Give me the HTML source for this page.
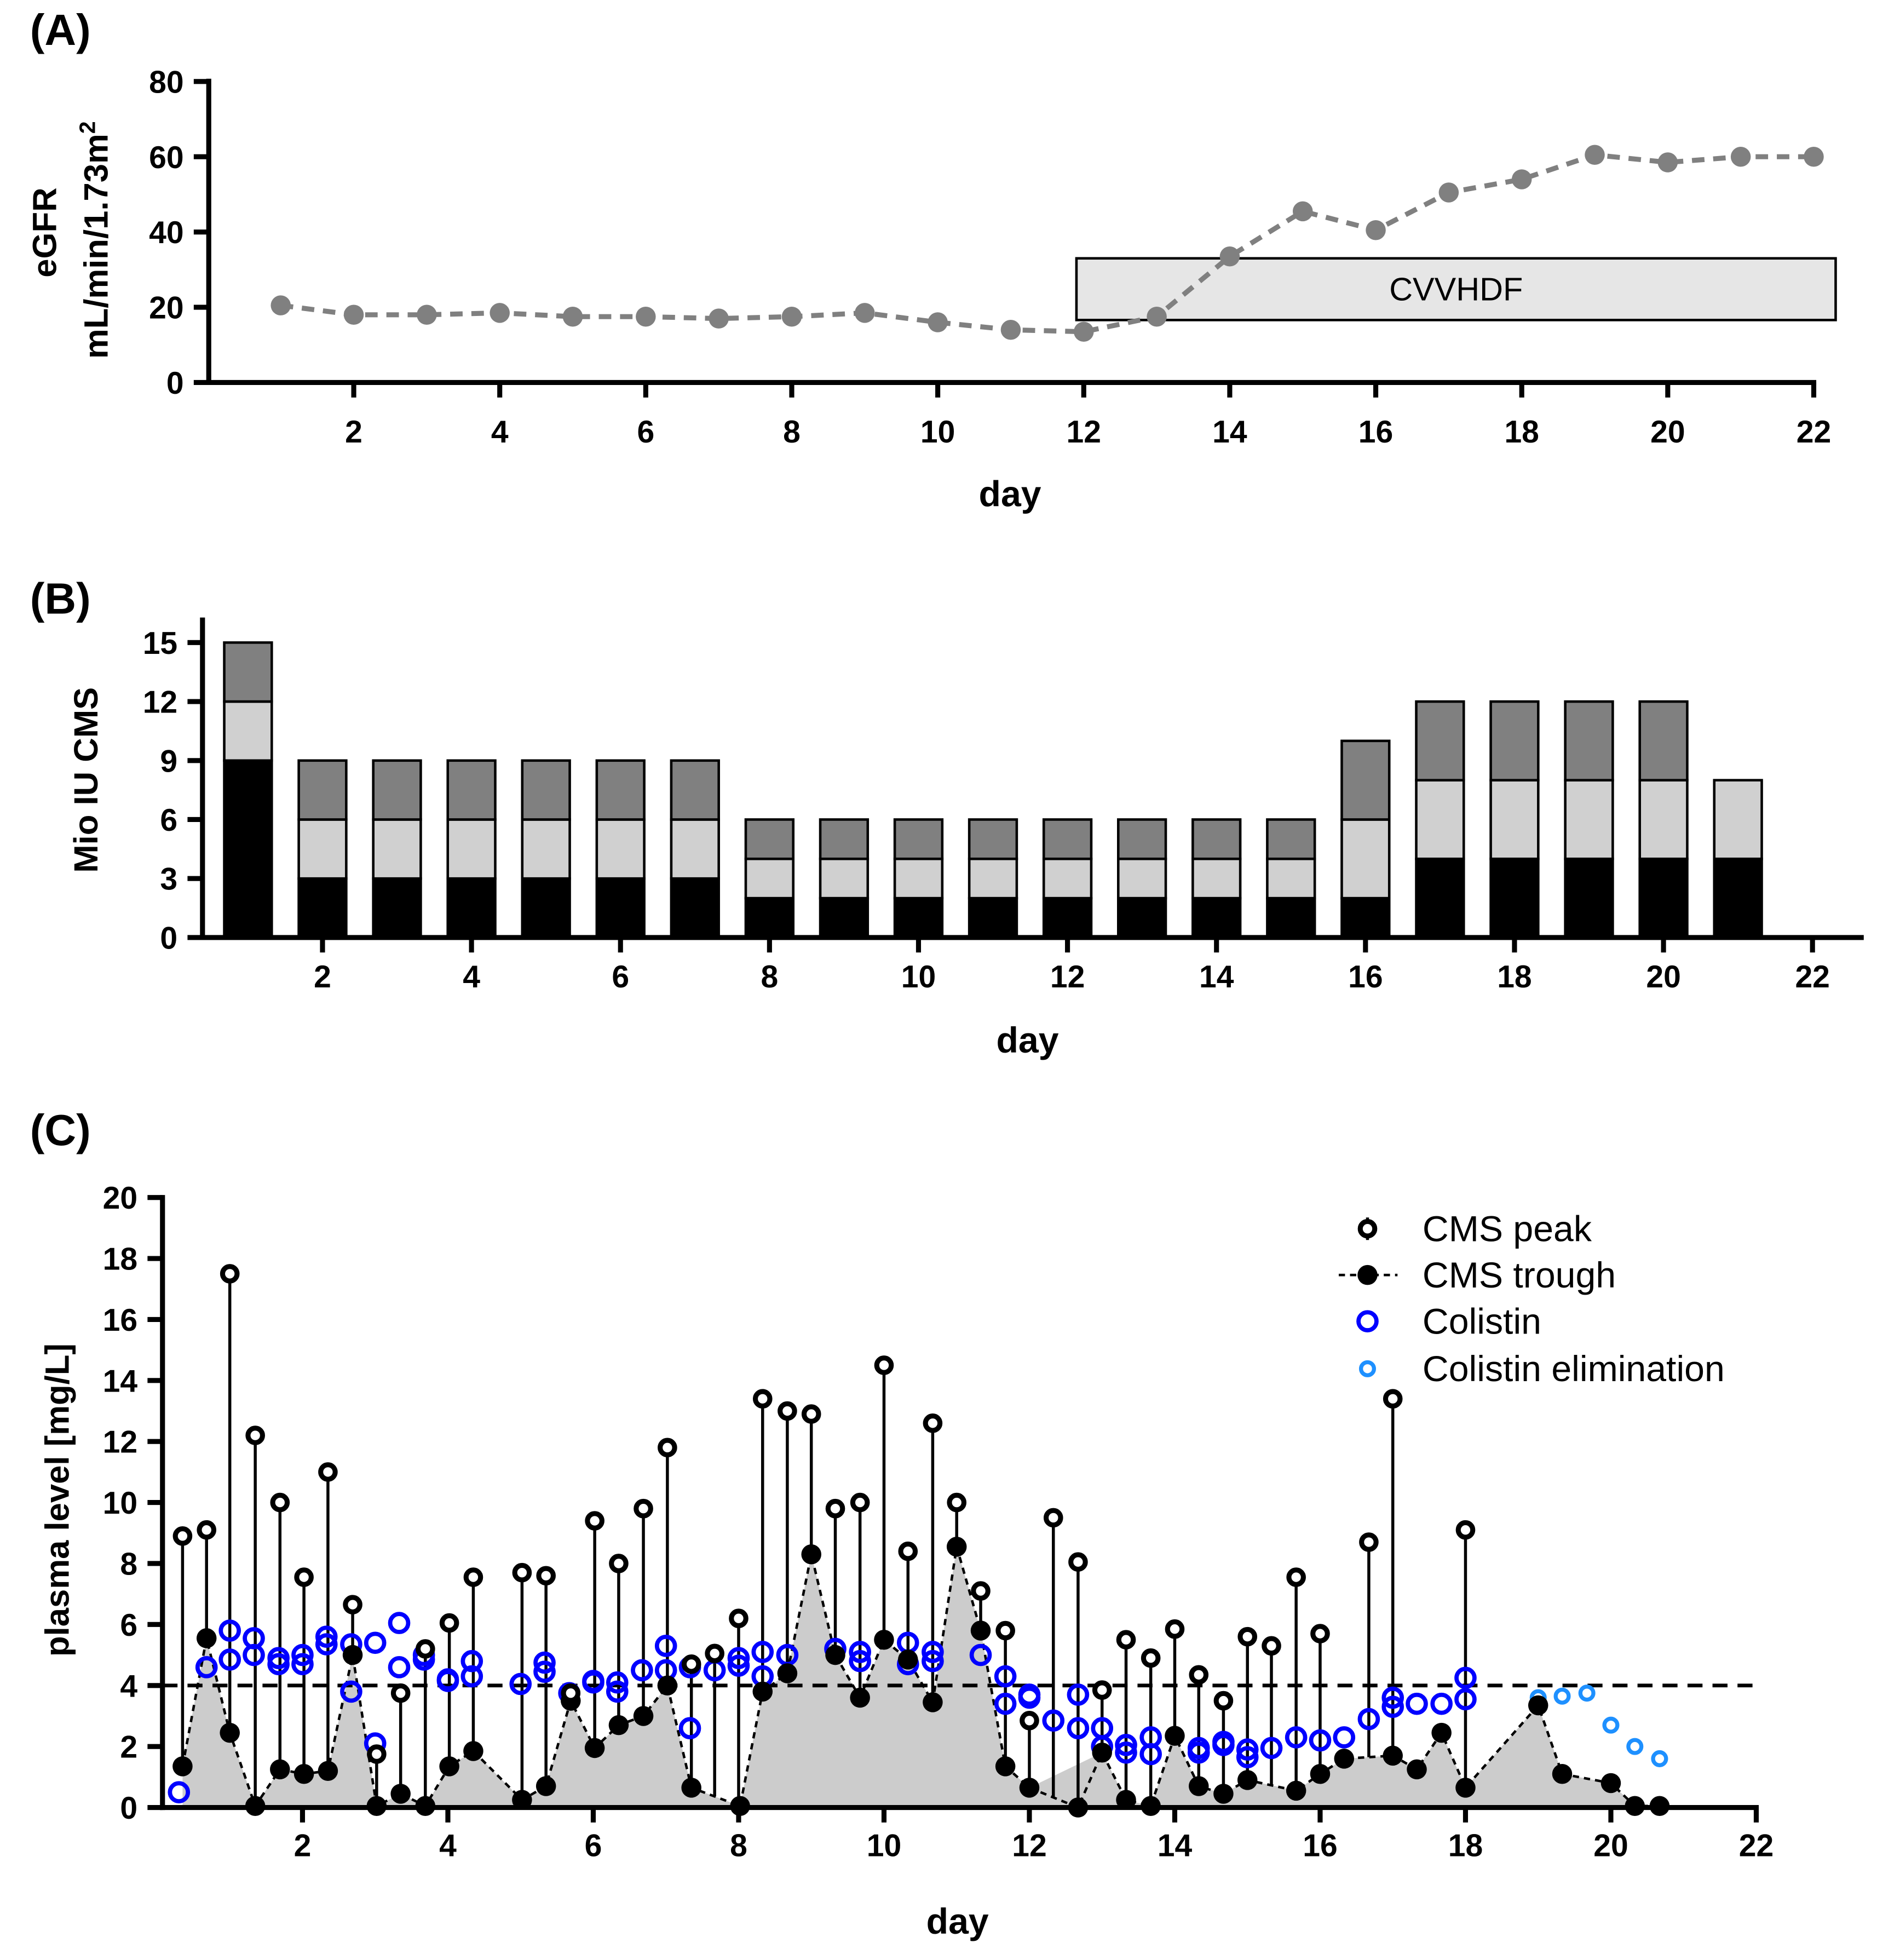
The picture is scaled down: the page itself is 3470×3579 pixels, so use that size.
<!DOCTYPE html>
<html><head><meta charset="utf-8"><style>
html,body{margin:0;padding:0;background:#fff}
svg{display:block}
text{font-family:"Liberation Sans",Arial,sans-serif}
</style></head><body>
<svg id="fig" width="3470" height="3579" viewBox="0 0 1520 1568" preserveAspectRatio="none" xmlns="http://www.w3.org/2000/svg">
<g id="pa"></g>
<g id="pb"></g>
<g id="pc"></g>
</svg>
<script>
// ---------- Panel A data ----------
const egfrDays = [1,2,3,4,5,6,7,8,9,10,11,12,13,14,15,16,17,18,19,20,21,22];
const egfrValues = [20.5,18,18,18.5,17.5,17.5,17,17.5,18.5,16,14,13.5,17.5,33.5,45.5,40.5,50.5,54,60.5,58.5,60,60];
const egfrTicks = [0,20,40,60,80];
const dayTicks = [2,4,6,8,10,12,14,16,18,20,22];
const cvvhdfRange = [11.9, 22.3];
const cvvhdfLevels = [16.6, 33];
// ---------- Panel B data ----------
const doseDays = [1,2,3,4,5,6,7,8,9,10,11,12,13,14,15,16,17,18,19,20,21];
const doseA = [9,3,3,3,3,3,3,2,2,2,2,2,2,2,2,2,4,4,4,4,4];
const doseB = [3,3,3,3,3,3,3,2,2,2,2,2,2,2,2,4,4,4,4,4,4];
const doseC = [3,3,3,3,3,3,3,2,2,2,2,2,2,2,2,4,4,4,4,4,0];
const doseTicks = [0,3,6,9,12,15];
// ---------- Panel C data ----------
const troughDays = [0.35,0.68,1.0,1.35,1.69,2.02,2.35,2.69,3.02,3.35,3.69,4.02,4.35,5.02,5.35,5.69,6.02,6.35,6.69,7.02,7.35,8.02,8.33,8.67,9.0,9.33,9.67,10.0,10.33,10.67,11.0,11.33,11.67,12.0,12.67,13.0,13.33,13.67,14.0,14.33,14.67,15.0,15.67,16.0,16.33,17.0,17.33,17.67,18.0,19.0,19.33,20.0,20.33,20.67];
const troughValues = [1.35,5.55,2.45,0.05,1.25,1.1,1.2,5.0,0.05,0.45,0.05,1.35,1.85,0.25,0.7,3.5,1.95,2.7,3.0,4.0,0.65,0.05,3.8,4.4,8.3,5.0,3.6,5.5,4.85,3.45,8.55,5.8,1.35,0.65,0.0,1.8,0.25,0.05,2.35,0.7,0.45,0.9,0.55,1.1,1.6,1.7,1.25,2.45,0.65,3.35,1.1,0.8,0.05,0.05];
const peakDays = [0.35,0.68,1.0,1.35,1.69,2.02,2.35,2.69,3.02,3.35,3.69,4.02,4.35,5.02,5.35,5.69,6.02,6.35,6.69,7.02,7.35,7.67,8.0,8.33,8.67,9.0,9.33,9.67,10.0,10.33,10.67,11.0,11.33,11.67,12.0,12.33,12.67,13.0,13.33,13.67,14.0,14.33,14.67,15.0,15.33,15.67,16.0,16.67,17.0,18.0];
const peakValues = [8.9,9.1,17.5,12.2,10.0,7.55,11.0,6.65,1.75,3.75,5.2,6.05,7.55,7.7,7.6,3.75,9.4,8.0,9.8,11.8,4.7,5.05,6.2,13.4,13.0,12.9,9.8,10.0,14.5,8.4,12.6,10.0,7.1,5.8,2.85,9.5,8.05,3.85,5.5,4.9,5.85,4.35,3.5,5.6,5.3,7.55,5.7,8.7,13.4,9.1];
const colDays = [0.3,0.68,1.0,1.0,1.33,1.33,1.67,1.67,2.0,2.0,2.33,2.33,2.67,2.67,3.0,3.0,3.33,3.33,3.67,3.67,4.0,4.0,4.33,4.33,5.0,5.33,5.33,5.67,6.0,6.0,6.33,6.33,6.67,7.0,7.0,7.33,7.33,7.67,8.0,8.0,8.33,8.33,8.67,9.33,9.67,9.67,10.33,10.33,10.67,10.67,11.33,11.67,11.67,12.0,12.0,12.33,12.67,12.67,13.0,13.0,13.33,13.33,13.67,13.67,14.33,14.33,14.67,14.67,15.0,15.0,15.33,15.67,16.0,16.33,16.67,17.0,17.0,17.33,17.67,18.0,18.0];
const colValues = [0.5,4.6,5.8,4.85,5.55,5.0,4.9,4.7,5.0,4.7,5.6,5.35,5.35,3.8,5.4,2.1,6.05,4.6,5.0,4.85,4.15,4.2,4.8,4.3,4.05,4.75,4.45,3.75,4.1,4.15,4.1,3.8,4.5,5.3,4.5,4.6,2.6,4.5,4.9,4.65,5.1,4.3,5.0,5.2,5.1,4.8,5.4,4.7,5.1,4.8,5.0,4.3,3.4,3.7,3.6,2.85,3.7,2.6,2.6,2.0,2.05,1.8,2.3,1.75,1.95,1.8,2.15,2.05,1.9,1.65,1.95,2.3,2.2,2.3,2.9,3.6,3.3,3.4,3.4,4.25,3.55];
const elimDays = [19.0,19.33,19.67,20.0,20.33,20.67];
const elimValues = [3.6,3.65,3.75,2.7,2.0,1.6];
const plasmaTicks = [0,2,4,6,8,10,12,14,16,18,20];
const threshold = 4;

const NS='http://www.w3.org/2000/svg';
function mk(parent, tag, attrs, txt){
  const e=document.createElementNS(NS,tag);
  for(const k in attrs) e.setAttribute(k,attrs[k]);
  if(txt!==undefined) e.textContent=txt;
  parent.appendChild(e); return e;
}
const pa=document.getElementById('pa'), pb=document.getElementById('pb'), pc=document.getElementById('pc');
const svg=document.getElementById('fig');

// ===== Panel A =====
const ax=d=>166.2+d*58.4, ay=v=>306-v*3.01;
let t;
t=mk(svg,'text',{x:24,y:36,'font-size':35,'font-weight':'bold'},'(A)');


let r=mk(pa,'rect',{x:ax(cvvhdfRange[0]),y:ay(cvvhdfLevels[1]),width:ax(cvvhdfRange[1])-ax(cvvhdfRange[0]),height:ay(cvvhdfLevels[0])-ay(cvvhdfLevels[1]),fill:'#e6e6e6',stroke:'#000','stroke-width':2});


t=mk(pa,'text',{x:(ax(cvvhdfRange[0])+ax(cvvhdfRange[1]))/2,y:ay((cvvhdfLevels[0]+cvvhdfLevels[1])/2)+9,'font-size':26,'text-anchor':'middle'},'CVVHDF');


let pl=mk(pa,'polyline',{points:egfrDays.map((d,i)=>ax(d)+','+ay(egfrValues[i])).join(' '),fill:'none',stroke:'#808080','stroke-width':4,'stroke-dasharray':'10,7'});


egfrDays.forEach((d,i)=>{
  const c=mk(pa,'circle',{cx:ax(d),cy:ay(egfrValues[i]),r:8,fill:'#808080'});
  
  
});
mk(pa,'line',{x1:167,y1:63,x2:167,y2:308,stroke:'#000','stroke-width':4});
mk(pa,'line',{x1:165,y1:306,x2:ax(22)+2,y2:306,stroke:'#000','stroke-width':4});
egfrTicks.forEach(v=>{
  mk(pa,'line',{x1:155,y1:ay(v),x2:167,y2:ay(v),stroke:'#000','stroke-width':4});
  t=mk(pa,'text',{x:147,y:ay(v)+9,'font-size':25,'font-weight':'bold','text-anchor':'end'},v);
  
  
});
dayTicks.forEach(d=>{
  mk(pa,'line',{x1:ax(d),y1:306,x2:ax(d),y2:318,stroke:'#000','stroke-width':4});
  t=mk(pa,'text',{x:ax(d),y:354,'font-size':25,'font-weight':'bold','text-anchor':'middle'},d);
  
  
});
t=mk(pa,'text',{x:808,y:405,'font-size':29,'font-weight':'bold','text-anchor':'middle'},'day');


t=mk(pa,'text',{transform:'translate(45,186) rotate(-90)','font-size':27,'font-weight':'bold','text-anchor':'middle'},'eGFR');


t=mk(pa,'text',{transform:'translate(86,192) rotate(-90)','font-size':27,'font-weight':'bold','text-anchor':'middle'});


t.innerHTML='mL/min/1.73m<tspan dy="-10" font-size="18">2</tspan>';

// ===== Panel B =====
const bx=d=>138.8+d*59.6, by=v=>750-v*15.73;
t=mk(svg,'text',{x:24,y:491,'font-size':35,'font-weight':'bold'},'(B)');


doseDays.forEach((d,i)=>{
  const segs=[[doseA[i],'#000'],[doseB[i],'#d0d0d0'],[doseC[i],'#808080']];
  let base=0;
  segs.forEach((s,j)=>{
    if(s[0]<=0) return;
    const rr=mk(pb,'rect',{x:bx(d)-19,y:by(base+s[0]),width:38,height:by(base)-by(base+s[0]),fill:s[1],stroke:'#000','stroke-width':2});
    
    
    base+=s[0];
  });
});
mk(pb,'line',{x1:162,y1:494,x2:162,y2:752,stroke:'#000','stroke-width':4});
mk(pb,'line',{x1:160,y1:750,x2:1491,y2:750,stroke:'#000','stroke-width':4});
doseTicks.forEach(v=>{
  mk(pb,'line',{x1:150,y1:by(v),x2:162,y2:by(v),stroke:'#000','stroke-width':4});
  t=mk(pb,'text',{x:142,y:by(v)+9,'font-size':25,'font-weight':'bold','text-anchor':'end'},v);
  
  
});
dayTicks.forEach(d=>{
  mk(pb,'line',{x1:bx(d),y1:750,x2:bx(d),y2:762,stroke:'#000','stroke-width':4});
  t=mk(pb,'text',{x:bx(d),y:790,'font-size':25,'font-weight':'bold','text-anchor':'middle'},d);
  
  
});
t=mk(pb,'text',{x:822,y:842,'font-size':29,'font-weight':'bold','text-anchor':'middle'},'day');


t=mk(pb,'text',{transform:'translate(78,624) rotate(-90)','font-size':27,'font-weight':'bold','text-anchor':'middle'},'Mio IU CMS');



// ===== Panel C =====
const cx=d=>125.7+d*58.15, cy=v=>1446-v*24.4;
t=mk(svg,'text',{x:24,y:916,'font-size':35,'font-weight':'bold'},'(C)');


// area (skips the dip at 12.67, as in the reference)
const areaIdx = troughDays.map((d,i)=>i).filter(i=>troughDays[i]!==12.67);
let apts=cx(troughDays[0])+','+cy(0)+' '+areaIdx.map(i=>cx(troughDays[i])+','+cy(troughValues[i])).join(' ')+' '+cx(troughDays[troughDays.length-1])+','+cy(0);
let area=mk(pc,'polygon',{points:apts,fill:'#cccccc'});


function troughAt(d){
  for(let i=0;i<troughDays.length-1;i++){
    if(d>=troughDays[i]&&d<=troughDays[i+1]){
      const f=(d-troughDays[i])/(troughDays[i+1]-troughDays[i]);
      return troughValues[i]+f*(troughValues[i+1]-troughValues[i]);
    }
  }
  return 0;
}
let th=mk(pc,'line',{x1:130,y1:cy(threshold),x2:1405,y2:cy(threshold),stroke:'#000','stroke-width':3,'stroke-dasharray':'12,8'});


peakDays.forEach((d,i)=>{
  const s=mk(pc,'line',{x1:cx(d),y1:cy(peakValues[i]),x2:cx(d),y2:cy(troughAt(d)),stroke:'#000','stroke-width':2.4});
  
  
});
let tl=mk(pc,'polyline',{points:troughDays.map((d,i)=>cx(d)+','+cy(troughValues[i])).join(' '),fill:'none',stroke:'#000','stroke-width':2,'stroke-dasharray':'5,4'});


colDays.forEach((d,i)=>{
  const c=mk(pc,'circle',{cx:cx(d),cy:cy(colValues[i]),r:7.2,fill:'none',stroke:'#0000ff','stroke-width':3.4});
  
  
});
elimDays.forEach((d,i)=>{
  const c=mk(pc,'circle',{cx:cx(d),cy:cy(elimValues[i]),r:5.2,fill:'none',stroke:'#1e90ff','stroke-width':3.2});
  
  
});
troughDays.forEach((d,i)=>{
  const c=mk(pc,'circle',{cx:cx(d),cy:cy(troughValues[i]),r:8,fill:'#000'});
  
  
});
peakDays.forEach((d,i)=>{
  const c=mk(pc,'circle',{cx:cx(d),cy:cy(peakValues[i]),r:5.8,fill:'#fff',stroke:'#000','stroke-width':4});
  
  
});
mk(pc,'line',{x1:130,y1:956,x2:130,y2:1448,stroke:'#000','stroke-width':4});
mk(pc,'line',{x1:128,y1:1446,x2:1407,y2:1446,stroke:'#000','stroke-width':4});
plasmaTicks.forEach(v=>{
  mk(pc,'line',{x1:118,y1:cy(v),x2:130,y2:cy(v),stroke:'#000','stroke-width':4});
  t=mk(pc,'text',{x:110,y:cy(v)+9,'font-size':25,'font-weight':'bold','text-anchor':'end'},v);
  
  
});
dayTicks.forEach(d=>{
  mk(pc,'line',{x1:cx(d),y1:1446,x2:cx(d),y2:1458,stroke:'#000','stroke-width':4});
  t=mk(pc,'text',{x:cx(d),y:1485,'font-size':25,'font-weight':'bold','text-anchor':'middle'},d);
  
  
});
t=mk(pc,'text',{x:766,y:1547,'font-size':29,'font-weight':'bold','text-anchor':'middle'},'day');


t=mk(pc,'text',{transform:'translate(55,1200) rotate(-90)','font-size':27,'font-weight':'bold','text-anchor':'middle'},'plasma level [mg/L]');


const lg=mk(pc,'g',{});


const legY=[983,1020,1057,1095];
const legText=['CMS peak','CMS trough','Colistin','Colistin elimination'];
mk(lg,'line',{x1:1094,y1:legY[0]-9,x2:1094,y2:legY[0]+9,stroke:'#000','stroke-width':2.4});
mk(lg,'circle',{cx:1094,cy:legY[0],r:5.8,fill:'#fff',stroke:'#000','stroke-width':4});
mk(lg,'line',{x1:1071,y1:legY[1],x2:1118,y2:legY[1],stroke:'#000','stroke-width':2,'stroke-dasharray':'5,4'});
mk(lg,'circle',{cx:1094,cy:legY[1],r:8,fill:'#000'});
mk(lg,'circle',{cx:1094,cy:legY[2],r:7.2,fill:'none',stroke:'#0000ff','stroke-width':3.4});
mk(lg,'circle',{cx:1094,cy:legY[3],r:5.2,fill:'none',stroke:'#1e90ff','stroke-width':3.2});
legText.forEach((s,i)=>{
  const e=mk(lg,'text',{x:1138,y:legY[i]+10,'font-size':29},s);
  
  
});
</script>
</body></html>
